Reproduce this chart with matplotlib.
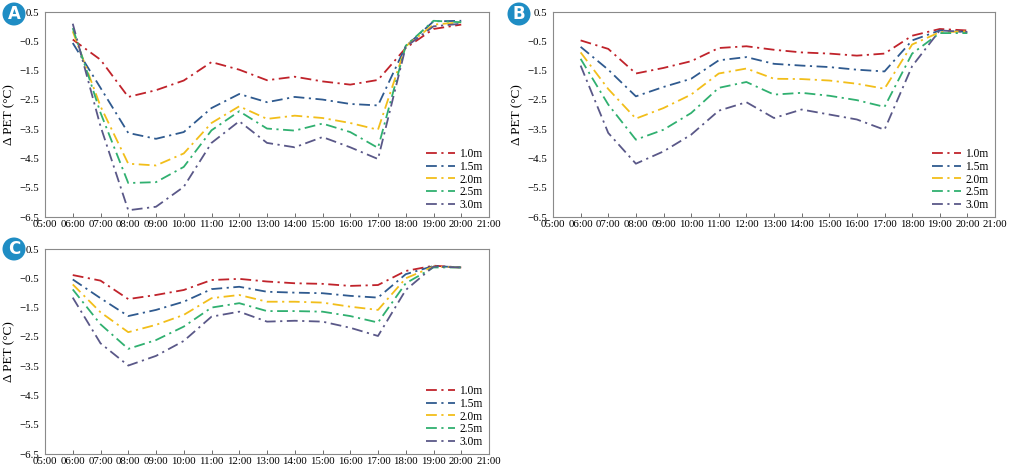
import matplotlib
matplotlib.use("Agg")
import matplotlib.pyplot as plt
from matplotlib.patches import Ellipse

hours = [6, 7, 8, 9, 10, 11, 12, 13, 14, 15, 16, 17, 18, 19, 20]
tick_hours = list(range(5, 22))
tick_labels = [f"{h:02d}:00" for h in tick_hours]
heights = ["1.0m", "1.5m", "2.0m", "2.5m", "3.0m"]
colors = ["#C0232B", "#2F5A8F", "#F2BE1A", "#30B070", "#5A5888"]

A_10 = [-0.44, -1.13, -2.40, -2.17, -1.84, -1.21, -1.47, -1.83, -1.71, -1.87, -1.98, -1.82, -0.73, -0.08, 0.07]
A_15 = [-0.56, -2.09, -3.63, -3.83, -3.60, -2.78, -2.30, -2.58, -2.40, -2.49, -2.64, -2.69, -0.67, 0.18, 0.20]
A_20 = [-0.16, -2.72, -4.68, -4.74, -4.33, -3.29, -2.72, -3.15, -3.04, -3.12, -3.29, -3.52, -0.67, 0.07, 0.15]
A_25 = [-0.05, -2.94, -5.34, -5.31, -4.79, -3.54, -2.89, -3.48, -3.55, -3.31, -3.60, -4.14, -0.65, 0.20, 0.15]
A_30 = [0.10, -3.40, -6.27, -6.15, -5.47, -3.97, -3.23, -3.97, -4.12, -3.77, -4.12, -4.52, -0.69, 0.01, 0.10]

B_10 = [-0.47, -0.76, -1.60, -1.41, -1.18, -0.73, -0.67, -0.79, -0.88, -0.92, -0.99, -0.92, -0.31, -0.08, -0.13]
B_15 = [-0.69, -1.47, -2.38, -2.06, -1.78, -1.15, -1.04, -1.27, -1.33, -1.38, -1.47, -1.53, -0.47, -0.13, -0.18]
B_20 = [-0.88, -2.13, -3.14, -2.78, -2.32, -1.60, -1.43, -1.78, -1.79, -1.84, -1.95, -2.12, -0.61, -0.19, -0.16]
B_25 = [-1.10, -2.66, -3.86, -3.52, -2.95, -2.09, -1.89, -2.32, -2.26, -2.36, -2.51, -2.74, -0.92, -0.22, -0.22]
B_30 = [-1.33, -3.63, -4.68, -4.26, -3.69, -2.87, -2.58, -3.12, -2.83, -3.00, -3.17, -3.52, -1.35, -0.13, -0.18]

C_10 = [-0.39, -0.58, -1.21, -1.07, -0.90, -0.56, -0.52, -0.61, -0.67, -0.69, -0.76, -0.73, -0.25, -0.07, -0.13]
C_15 = [-0.54, -1.18, -1.79, -1.58, -1.30, -0.87, -0.79, -0.96, -0.99, -1.01, -1.10, -1.16, -0.36, -0.08, -0.13]
C_20 = [-0.71, -1.66, -2.34, -2.09, -1.75, -1.18, -1.07, -1.30, -1.30, -1.33, -1.47, -1.58, -0.50, -0.10, -0.13]
C_25 = [-0.88, -2.07, -2.91, -2.61, -2.15, -1.50, -1.35, -1.62, -1.62, -1.64, -1.79, -2.01, -0.67, -0.13, -0.13]
C_30 = [-1.16, -2.72, -3.48, -3.15, -2.64, -1.81, -1.64, -1.98, -1.95, -1.98, -2.19, -2.47, -0.90, -0.10, -0.13]

panels = {
    "A": [A_10, A_15, A_20, A_25, A_30],
    "B": [B_10, B_15, B_20, B_25, B_30],
    "C": [C_10, C_15, C_20, C_25, C_30],
}
y_ticks = [0.5, -0.5, -1.5, -2.5, -3.5, -4.5, -5.5, -6.5]
y_labels = ["0.5", "\u22120.5", "\u22121.5", "\u22122.5", "\u22123.5", "\u22124.5", "\u22125.5", "\u22126.5"]

plt.rcParams['font.family'] = ['Liberation Serif', 'DejaVu Serif']

fig = plt.figure(figsize=(10.15, 4.73), dpi=100)
W, H = 1015, 473
rects = {
    "A": (45, 12, 489, 217),
    "B": (553, 12, 995, 217),
    "C": (45, 249, 489, 454),
}
badges = {"A": (14, 14), "B": (519, 14), "C": (14, 249)}

for key, series in panels.items():
    l, t, r, b = rects[key]
    ax = fig.add_axes([l / W, 1 - b / H, (r - l) / W, (b - t) / H])
    for vals, lab, c in zip(series, heights, colors):
        ax.plot(hours, vals, linestyle=(0, (6, 2.5, 1.2, 2.5)), color=c, lw=1.3, label=lab)
    ax.set_xlim(5, 21)
    ax.set_ylim(-6.5, 0.5)
    ax.set_xticks(tick_hours)
    ax.set_xticklabels(tick_labels)
    ax.set_yticks(y_ticks)
    ax.set_yticklabels(y_labels)
    ax.tick_params(axis='x', direction='in', length=3, width=0.6, color='#555555', labelsize=7.8, pad=2.5)
    ax.tick_params(axis='y', direction='in', length=0, labelsize=7.8, pad=4)
    for sp in ax.spines.values():
        sp.set_color('#8a8a8a')
        sp.set_linewidth(0.8)
    ax.set_ylabel("\u0394 PET (\u00b0C)", fontsize=9.5, labelpad=3)
    ax.legend(loc='lower right', frameon=False, fontsize=8.3, handlelength=2.5,
              handletextpad=0.35, labelspacing=0.05, borderaxespad=0.15,
              bbox_to_anchor=(1.0, 0.0))
    cx, cy = badges[key]
    e = Ellipse((cx / W, 1 - cy / H), 23 / W, 23 / H, transform=fig.transFigure,
                facecolor='#1F8DC4', edgecolor='none')
    fig.patches.append(e)
    fig.text(cx / W, 1 - cy / H, key, color='white', fontsize=12, fontweight='bold',
             family=['DejaVu Sans'], ha='center', va='center')

fig.savefig("out.png", dpi=100)
